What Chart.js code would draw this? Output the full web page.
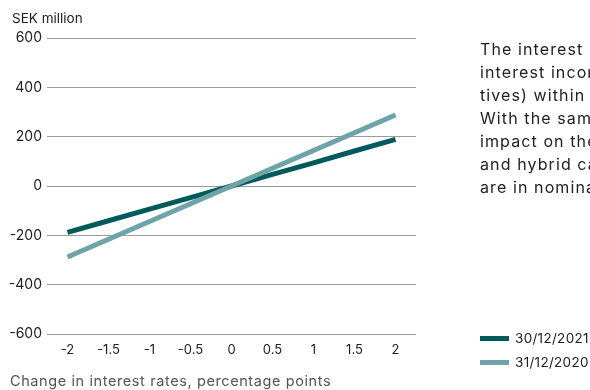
<!DOCTYPE html>
<html>
<head>
<meta charset="utf-8">
<script src="https://cdn.jsdelivr.net/npm/chart.js@4"></script>
<style>
  html, body { margin: 0; padding: 0; background: #fff; }
  body { width: 590px; height: 390px; overflow: hidden; position: relative; font-family: Inter, "Open Sans", sans-serif; color: #222; }
  #wrap { position: absolute; left: 0; top: 0; width: 590px; height: 390px; }
  .unit { position: absolute; left: 12px; top: 10px; font-size: 13.5px; color: #222; }
  .xtitle { position: absolute; left: 10px; top: 372px; font-size: 14.5px; letter-spacing: 0.6px; color: #555; white-space: nowrap; }
  .note { position: absolute; left: 480px; top: 38px; font-size: 16px; letter-spacing: 1.1px; line-height: 23px; color: #222; white-space: nowrap; }
  .legend { position: absolute; left: 480px; top: 326px; font-size: 13.5px; letter-spacing: 0.3px; color: #222; }
  .legend div { height: 24px; display: flex; align-items: center; white-space: nowrap; }
  .legend span.sw { display: inline-block; width: 29px; height: 5px; margin-right: 6px; }
</style>
</head>
<body>
<div id="wrap"><canvas id="chart" width="590" height="390"></canvas></div>
<div class="unit">SEK million</div>
<div class="xtitle">Change in interest rates, percentage points</div>
<div class="note">
  The interest rate risk is the impact on net<br>
  interest income (including derivatives and deriva-<br>
  tives) within a one-year horizon.<br>
  With the same assumptions, the<br>
  impact on the fair value of assets<br>
  and hybrid capital, the amounts<br>
  are in nominal terms.
</div>
<div class="legend" id="legend"></div>
<script>
const xLabels = ['-2', '-1.5', '-1', '-0.5', '0', '0.5', '1', '1.5', '2'];
const series2021 = [-188, -141, -94, -47, 0, 47, 94, 142, 189];
const series2020 = [-288, -216, -144, -72, 0, 72, 144, 216, 288];
const seriesNames = ['30/12/2021', '31/12/2020'];
const seriesColors = ['#005a5b', '#6ea4a7'];

const data = {
  labels: xLabels,
  datasets: [
    { label: seriesNames[1], data: series2020, borderColor: seriesColors[1], backgroundColor: seriesColors[1] },
    { label: seriesNames[0], data: series2021, borderColor: seriesColors[0], backgroundColor: seriesColors[0] }
  ]
};

const config = {
  type: 'line',
  data: data,
  options: {
    responsive: false,
    animation: false,
    layout: { padding: { left: 0, right: 174, top: 38, bottom: 26 } },
    elements: {
      line: { borderWidth: 5, tension: 0, borderCapStyle: 'butt' },
      point: { radius: 0 }
    },
    plugins: { legend: { display: false }, tooltip: { enabled: false } },
    scales: {
      x: {
        offset: true,
        grid: { display: false },
        border: { display: false },
        ticks: { color: '#222', font: { family: 'Inter', size: 13 }, padding: 0, maxRotation: 0 },
        afterFit: s => { s.height = 30; }
      },
      y: {
        min: -600, max: 600,
        grid: { color: '#9a9a9a', lineWidth: 1, drawTicks: false },
        border: { display: false },
        ticks: { stepSize: 200, color: '#222', font: { family: 'Inter', size: 14 }, padding: 5 },
        afterFit: s => { s.width = 47; }
      }
    }
  }
};

const ctx = document.getElementById('chart').getContext('2d');
const chart = new Chart(ctx, config);

const legend = document.getElementById('legend');
seriesNames.forEach((name, i) => {
  const row = document.createElement('div');
  row.innerHTML = `<span class="sw" style="background:${seriesColors[i]}"></span>${name}`;
  legend.appendChild(row);
});
</script>
</body>
</html>
